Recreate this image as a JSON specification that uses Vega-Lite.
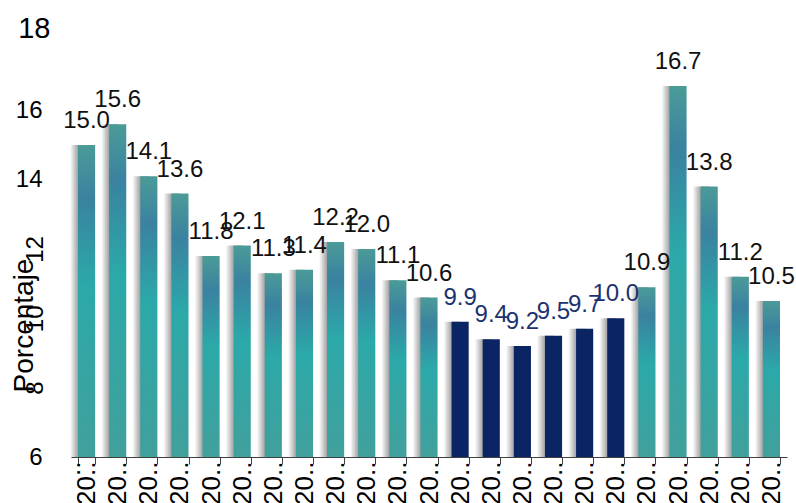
{
  "$schema": "https://vega.github.io/schema/vega-lite/v6.json",
  "width": 716,
  "height": 416,
  "autosize": {"type": "none"},
  "padding": {"left": 71, "top": 41, "right": 9, "bottom": 46},
  "background": "white",
  "config": {
    "view": {"stroke": null},
    "axis": {"grid": false, "labelFont": "Liberation Sans", "titleFont": "Liberation Sans", "labelColor": "#000000", "titleColor": "#000000"}
  },
  "data": {
    "values": [
      {"year": "2001", "value": 15.0, "group": "a"},
      {"year": "2002", "value": 15.6, "group": "a"},
      {"year": "2003", "value": 14.1, "group": "a"},
      {"year": "2004", "value": 13.6, "group": "a"},
      {"year": "2005", "value": 11.8, "group": "a"},
      {"year": "2006", "value": 12.1, "group": "a"},
      {"year": "2007", "value": 11.3, "group": "a"},
      {"year": "2008", "value": 11.4, "group": "a"},
      {"year": "2009", "value": 12.2, "group": "a"},
      {"year": "2010", "value": 12.0, "group": "a"},
      {"year": "2011", "value": 11.1, "group": "a"},
      {"year": "2012", "value": 10.6, "group": "a"},
      {"year": "2013", "value": 9.9, "group": "b"},
      {"year": "2014", "value": 9.4, "group": "b"},
      {"year": "2015", "value": 9.2, "group": "b"},
      {"year": "2016", "value": 9.5, "group": "b"},
      {"year": "2017", "value": 9.7, "group": "b"},
      {"year": "2018", "value": 10.0, "group": "b"},
      {"year": "2019", "value": 10.9, "group": "a"},
      {"year": "2020", "value": 16.7, "group": "a"},
      {"year": "2021", "value": 13.8, "group": "a"},
      {"year": "2022", "value": 11.2, "group": "a"},
      {"year": "2023", "value": 10.5, "group": "a"}
    ]
  },
  "encoding": {
    "x": {
      "field": "year",
      "type": "ordinal",
      "scale": {"paddingInner": 0.45, "paddingOuter": 0.225},
      "axis": {
        "title": null,
        "labelAngle": 270,
        "labelAlign": "right",
        "labelBaseline": "middle",
        "labelFontSize": 26,
        "labelExpr": "slice(datum.label, 0, 2) + '..'",
        "labelLimit": 0,
        "labelPadding": -3,
        "labelOverlap": false,
        "tickBand": "extent",
        "tickSize": 7,
        "tickColor": "#404040",
        "domainColor": "#404040"
      }
    }
  },
  "layer": [
    {
      "mark": {
        "type": "bar",
        "xOffset": -8,
        "color": {
          "gradient": "linear", "x1": 0, "y1": 0, "x2": 1, "y2": 0,
          "stops": [
            {"offset": 0, "color": "#ffffff"},
            {"offset": 0.5, "color": "#9c9c9c"},
            {"offset": 1, "color": "#9c9c9c"}
          ]
        }
      },
      "encoding": {
        "y": {
          "field": "value",
          "type": "quantitative",
          "scale": {"domain": [6, 18], "nice": false, "zero": false},
          "axis": {
            "orient": "left",
            "values": [6, 14, 16, 18],
            "title": null,
            "domain": false,
            "ticks": false,
            "labelAngle": 0,
            "labelAlign": "right",
            "labelBaseline": {"condition": {"test": "datum.value == 18", "value": "alphabetic"}, "value": "middle"},
            "labelOffset": {"condition": {"test": "datum.value == 18", "value": -4}, "value": 0},
            "labelFontSize": {"condition": {"test": "datum.value == 18", "value": 29}, "value": 24},
            "labelPadding": {"condition": {"test": "datum.value == 18", "value": 21}, "value": 29},
            "labelOverlap": false,
            "labelBound": false,
            "labelFlush": false
          }
        },
        "y2": {"datum": 6}
      }
    },
    {
      "transform": [{"filter": "datum.group == 'a'"}],
      "mark": {
        "type": "bar",
        "color": {
          "gradient": "linear", "x1": 0, "y1": 0, "x2": 0, "y2": 1,
          "stops": [
            {"offset": 0, "color": "#4b9b98"},
            {"offset": 0.17, "color": "#3a82a0"},
            {"offset": 0.45, "color": "#2ba9a9"},
            {"offset": 1, "color": "#41a09c"}
          ]
        }
      },
      "encoding": {
        "y": {
          "field": "value",
          "type": "quantitative",
          "axis": {
            "orient": "left",
            "values": [8, 10, 12],
            "domain": false,
            "ticks": false,
            "labelAngle": 270,
            "labelAlign": "center",
            "labelBaseline": "alphabetic",
            "labelFontSize": 24,
            "labelPadding": 29,
            "labelOverlap": false,
            "labelBound": false,
            "labelFlush": false,
            "title": "Porcentaje",
            "titleFontSize": 28,
            "titleFontWeight": "normal",
            "titleAngle": 270,
            "titleX": -39,
            "titleY": 284,
            "titleAlign": "center",
            "titleBaseline": "alphabetic"
          }
        },
        "y2": {"datum": 6}
      }
    },
    {
      "transform": [{"filter": "datum.group == 'b'"}],
      "mark": {"type": "bar", "color": "#0b2463"},
      "encoding": {
        "y": {"field": "value", "type": "quantitative", "axis": null},
        "y2": {"datum": 6}
      }
    },
    {
      "mark": {"type": "text", "font": "Liberation Sans", "fontSize": 24, "baseline": "alphabetic", "align": "center", "dy": -17},
      "encoding": {
        "y": {"field": "value", "type": "quantitative", "axis": null},
        "text": {"field": "value", "type": "quantitative", "format": ".1f"},
        "color": {"field": "group", "type": "nominal", "scale": {"domain": ["a", "b"], "range": ["#111111", "#1c3370"]}, "legend": null}
      }
    }
  ],
  "resolve": {"axis": {"y": "independent"}}
}
